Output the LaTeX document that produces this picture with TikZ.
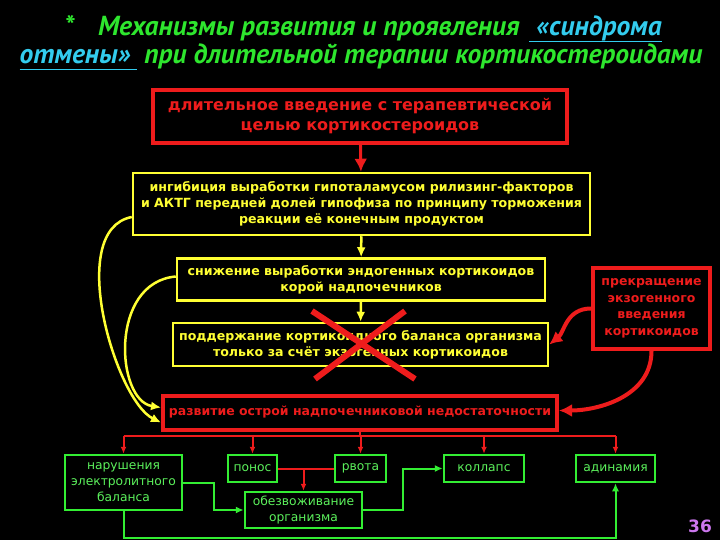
\documentclass[tikz,border=0pt]{standalone}
\usepackage{fontspec}
\setmainfont{DejaVu Sans}
\newfontfamily\titlefont{PT Sans}
\usetikzlibrary{arrows.meta}

\definecolor{slred}{HTML}{EE1C1C}
\definecolor{slyellow}{HTML}{FFFF33}
\definecolor{slgreen}{HTML}{33EE33}
\definecolor{sltitle}{HTML}{2EE62E}
\definecolor{slcyan}{HTML}{33CCEE}
\definecolor{slviolet}{HTML}{CC77EE}

% cyan underlined words of the title, line at a fixed depth
\newcommand\linkword[1]{\textcolor{slcyan}{\underline{\smash{#1}\rule[-3.5pt]{0pt}{1pt}}}}

\tikzset{
  box/.style={inner sep=1pt, align=center, fill=black},
  redbox/.style={box, draw=slred, line width=4pt, text=slred,
    font=\bfseries\fontsize{12.5}{16.5}\selectfont},
  yelbox/.style={box, draw=slyellow, line width=2.5pt, text=slyellow,
    font=\bfseries\fontsize{12.6}{16}\selectfont},
  grnbox/.style={box, draw=slgreen, line width=2.5pt, text=slgreen!80!white,
    font=\fontsize{12.3}{16}\selectfont},
  titletext/.style={anchor=base, text=sltitle,
    font=\titlefont\bfseries\itshape\fontsize{27.5}{30}\selectfont},
  rarr/.style={draw=slred, line width=2pt, -{Latex[length=7pt,width=6pt]}},
  rline/.style={draw=slred, line width=2pt},
  bigrarr/.style={draw=slred, line width=4pt, -{Latex[length=13pt,width=13pt]}},
  yarr/.style={draw=slyellow, line width=2.5pt, -{Latex[length=10pt,width=9pt]}},
  garr/.style={draw=slgreen, line width=2pt, -{Latex[length=8pt,width=7pt]}}
}

\begin{document}
\begin{tikzpicture}[x=1pt,y=-1pt]
  \fill[black] (0,0) rectangle (720,540);

  % title
  \node[titletext] (title1) at (363,36)
    {*\hspace{24pt}Механизмы развития и проявления\hspace{3pt} \linkword{\ «синдрома}};
  \node[titletext] (title2) at (361,64)
    {\linkword{отмены»\ } при длительной терапии кортикостероидами};

  % upper chain
  \node[redbox, minimum width=414, minimum height=53, font=\bfseries\fontsize{16}{20}\selectfont]
    (vved) at (360,116.5) {длительное введение с терапевтической\\целью кортикостероидов};
  \node[yelbox, minimum width=457, minimum height=62]
    (ingib) at (361.5,204) {ингибиция выработки гипоталамусом рилизинг-факторов\\
      и АКТГ передней долей гипофиза по принципу торможения\\реакции её конечным продуктом};
  \node[yelbox, minimum width=368, minimum height=42]
    (snizh) at (361,279.5) {снижение выработки эндогенных кортикоидов\\корой надпочечников};
  \node[yelbox, minimum width=375, minimum height=43]
    (podd) at (360.5,344.5) {поддержание кортикоидного баланса организма\\только за счёт экзогенных кортикоидов};
  \node[redbox, minimum width=117, minimum height=81]
    (prekr) at (651.5,308.5) {прекращение\\экзогенного\\введения\\кортикоидов};
  \node[redbox, minimum width=394, minimum height=34]
    (nedost) at (360,412.5) {развитие острой надпочечниковой недостаточности};

  \draw[bigrarr, line width=3pt] (vved) -- (ingib);
  \draw[yarr] (ingib) -- (snizh);
  \draw[yarr] (snizh) -- (podd);

  % crossed out
  \draw[slred, line width=6pt] (312,311) -- (415,379);
  \draw[slred, line width=6pt] (405,311) -- (315,379);

  % side curves
  \draw[yarr] ([yshift=-13pt]ingib.west) .. controls +(-67,13) and +(-45,-22) .. ([yshift=-10pt]nedost.west);
  \draw[yarr] ([yshift=3pt]snizh.west) .. controls +(-67,6) and +(-45,-7) .. ([yshift=5pt]nedost.west);
  \draw[bigrarr] (prekr.west) .. controls +(-25,0) and +(15,-12) .. (podd.east);
  \draw[bigrarr] (prekr.south) .. controls +(0,45) and +(40,0) .. ([yshift=2pt]nedost.east);

  % consequences
  \node[grnbox, minimum width=117, minimum height=55] (narush) at (123.5,482.5) {нарушения\\электролитного\\баланса};
  \node[grnbox, minimum width=49, minimum height=27] (ponos) at (252.5,468.5) {понос};
  \node[grnbox, minimum width=51, minimum height=27] (rvota) at (360.5,468.5) {рвота};
  \node[grnbox, minimum width=80, minimum height=27] (kollaps) at (484,468.5) {коллапс};
  \node[grnbox, minimum width=79, minimum height=27] (adin) at (615.5,468.5) {адинамия};
  \node[grnbox, minimum width=117, minimum height=36] (obezv) at (303.5,510) {обезвоживание\\организма};

  \coordinate (bus) at (360,436);
  \draw[rline] (nedost.south) -- (bus);
  \draw[rline] (narush.north |- bus) -- (adin.north |- bus);
  \foreach \n in {narush,ponos,rvota,kollaps,adin}
    \draw[rarr] (\n.north |- bus) -- (\n.north);
  \draw[rline] (ponos.east) -- (rvota.west);
  \draw[rarr] (ponos.east -| obezv.north) -- (obezv.north);

  \draw[garr] (narush.east) -- ++(31,0) |- (obezv.west);
  \draw[garr] (obezv.east) -- ++(40,0) |- (kollaps.west);
  \draw[garr] (narush.south) -- ++(0,27) -| (adin.south);

  \node[text=slviolet, font=\bfseries\fontsize{17}{20}\selectfont] (num) at (700,526) {36};
\end{tikzpicture}
\end{document}
